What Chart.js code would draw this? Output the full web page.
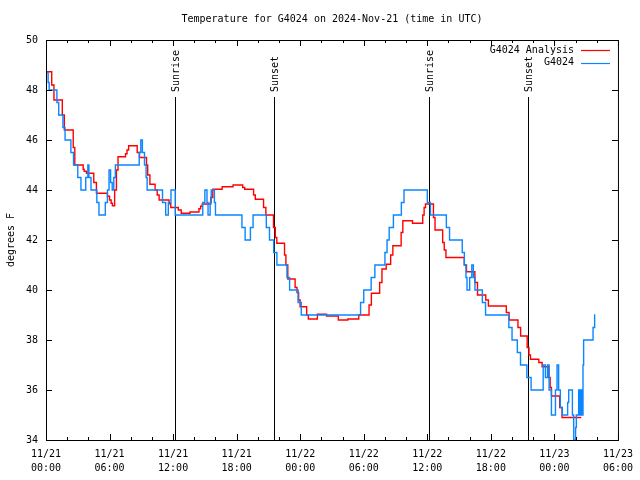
<!doctype html>
<html lang="en">
<head>
<meta charset="utf-8">
<title>Temperature for G4024</title>
<style>
  * { margin: 0; padding: 0; }
  body { background: white; }
  .chartBox { width: 640px; height: 480px; }
</style>
</head>
<body>
<div class="chartBox"><canvas id="myChart"></canvas></div>
<script src="https://cdn.jsdelivr.net/npm/chart.js"></script>
<script>
// hours since 11/21 00:00 UTC; each value holds from its hour on (step line)
const analysisHours = [0.07, 0.54, 0.75, 1.54, 1.73, 2.57, 2.72, 3.51, 3.6, 3.82, 4.51, 4.76,
  5.61, 5.8, 6.0, 6.15, 6.27, 6.48, 6.65, 6.8, 7.51, 7.65, 7.8, 8.61, 8.83, 9.49, 9.6, 9.81,
  10.3, 10.5, 10.68, 11.62, 11.78, 12.49, 12.77, 13.59, 14.44, 14.6, 14.75, 15.56, 15.75,
  16.63, 17.66, 18.57, 18.76, 19.6, 19.76, 20.54, 20.76, 21.48, 21.65, 21.79, 22.52, 22.65,
  22.83, 23.52, 23.7, 23.85, 23.99, 24.61, 24.77, 25.62, 26.49, 27.6, 28.5, 29.53, 30.5,
  30.72, 31.5, 31.72, 32.12, 32.54, 32.75, 33.53, 33.69, 34.6, 35.57, 35.7, 35.83, 36.58,
  36.73, 37.45, 37.6, 37.76, 39.49, 39.7, 40.49, 40.74, 41.52, 41.77, 43.46, 43.72, 44.56,
  44.81, 45.43, 45.6, 45.74, 46.53, 46.84, 47.47, 47.6, 47.72, 48.5, 48.72, 50.53];
const analysisTemps = [48.73, 48.2, 47.6, 47.0, 46.4, 45.7, 45.0, 44.83, 44.75, 44.67, 44.3, 43.87,
  43.87, 43.75, 43.6, 43.47, 43.37, 44.0, 44.8, 45.33, 45.45, 45.6, 45.77, 45.5, 45.3, 45.0, 44.6, 44.23,
  44.0, 43.8, 43.6, 43.45, 43.3, 43.2, 43.07, 43.12, 43.25, 43.35, 43.44, 43.7, 44.03,
  44.13, 44.2, 44.1, 44.03, 43.8, 43.63, 43.3, 43.0, 42.5, 42.1, 41.87, 41.4, 41.0,
  40.44, 40.1, 39.9, 39.6, 39.33, 39.0, 38.84, 39.03, 38.96, 38.8, 38.84, 39.0, 39.4,
  39.87, 40.3, 40.84, 41.03, 41.4, 41.77, 42.3, 42.77, 42.67, 43.0, 43.3, 43.44, 42.9,
  42.4, 41.9, 41.6, 41.3, 41.0, 40.73, 40.3, 39.8, 39.6, 39.36, 39.1, 38.8, 38.5,
  38.16, 37.7, 37.4, 37.23, 37.1, 36.93, 36.5, 36.1, 35.76, 35.3, 34.9, 34.9];

const obsHours = [0.07, 0.2, 0.3, 1.03, 1.2, 1.6, 1.8, 2.35, 2.6, 3.0, 3.3, 3.75, 3.95, 4.05, 4.25,
  4.8, 5.0, 5.6, 5.8, 5.95, 6.1, 6.25, 6.4, 6.55, 8.8, 8.95, 9.1, 9.3, 9.45, 9.55, 11.0, 11.3,
  11.55, 11.8, 12.2, 14.8, 15.0, 15.2, 15.3, 15.5, 15.6, 15.9, 16.0, 18.5, 18.8, 19.3, 19.55,
  20.8, 21.1, 21.5, 21.8, 22.75, 23.0, 23.8, 24.1, 29.7, 30.0, 30.7, 31.05, 32.0, 32.2, 32.4,
  32.8, 33.55, 33.8, 36.0, 36.3, 37.8, 38.1, 39.3, 39.5, 39.65, 39.75, 40.0, 40.2, 40.35,
  40.5, 41.2, 41.5, 43.7, 44.0, 44.5, 44.8, 45.4, 45.8, 46.78, 46.94, 47.15, 47.35, 47.5,
  47.72, 48.1, 48.25, 48.4, 48.56, 48.75, 49.25, 49.35, 49.7, 49.82, 50.0, 50.07, 50.29,
  50.4, 50.5, 50.6, 50.7, 50.76, 51.65, 51.8, 51.85];
const obsTemps = [48.7, 48.3, 48, 47.5, 47, 46.5, 46, 45.5, 45, 44.5, 44, 44.5, 45, 44.5, 44,
  43.5, 43, 43.5, 44, 44.8, 44.3, 44, 44.5, 45, 45.5, 46, 45.5, 45, 44.5, 44, 43.5, 43,
  43.5, 44, 43, 43.5, 44, 43.5, 43, 43.5, 44, 43.5, 43, 42.5, 42, 42.5, 43,
  42.5, 42, 41.5, 41, 40.5, 40, 39.5, 39, 39.5, 40, 40.5, 41, 41.5, 42, 42.5,
  43, 43.5, 44, 43.5, 43, 42.5, 42, 41.5, 41, 40.5, 40, 40.5, 41, 40.5,
  40, 39.5, 39, 38.5, 38, 37.5, 37, 36.5, 36, 36, 37, 36.5, 37, 36,
  35, 36, 37, 36, 35.3, 35, 35.5, 36, 35, 34, 34.5, 35, 36,
  35, 36, 35, 37, 38, 38.5, 39, 39];

const sunLabels = ['Sunrise', 'Sunset', 'Sunrise', 'Sunset'];
const sunHours = [12.14, 21.53, 36.19, 45.49];

const xTickHours = [0, 6, 12, 18, 24, 30, 36, 42, 48, 54];
const xTickLabels = [['11/21', '00:00'], ['11/21', '06:00'], ['11/21', '12:00'], ['11/21', '18:00'],
  ['11/22', '00:00'], ['11/22', '06:00'], ['11/22', '12:00'], ['11/22', '18:00'],
  ['11/23', '00:00'], ['11/23', '06:00']];

const FONT = '10px "DejaVu Sans Mono"';
const RED = '#ff0000';
const BLUE = '#0a86ff';

// frame, inward ticks, sun lines, legend, titles (gnuplot look)
const decor = {
  id: 'decor',
  beforeDatasetsDraw(chart) {
    const {ctx, chartArea: a, scales: {x}} = chart;
    ctx.save();
    ctx.strokeStyle = '#000';
    ctx.lineWidth = 1;
    ctx.fillStyle = '#000';
    ctx.font = FONT;
    sunHours.forEach((h, i) => {
      const px = Math.round(x.getPixelForValue(h)) + 0.5;
      ctx.beginPath();
      ctx.moveTo(px, 97);
      ctx.lineTo(px, a.bottom);
      ctx.stroke();
      ctx.save();
      ctx.translate(px + 1, 92);
      ctx.rotate(-Math.PI / 2);
      ctx.textAlign = 'left';
      ctx.textBaseline = 'middle';
      ctx.fillText(sunLabels[i], 0, 0);
      ctx.restore();
    });
    ctx.restore();
  },
  afterDraw(chart) {
    const {ctx, chartArea: a, scales: {x, y}} = chart;
    ctx.save();
    ctx.strokeStyle = '#000';
    ctx.lineWidth = 1;
    ctx.strokeRect(a.left + 0.5, a.top + 0.5, a.right - a.left, a.bottom - a.top);
    ctx.beginPath();
    for (let h = 0; h <= 54; h += 2) {
      const px = Math.round(x.getPixelForValue(h)) + 0.5;
      const len = h % 6 === 0 ? 6 : 3;
      ctx.moveTo(px, a.bottom); ctx.lineTo(px, a.bottom - len);
      ctx.moveTo(px, a.top); ctx.lineTo(px, a.top + len);
    }
    for (let t = 34; t <= 50; t += 2) {
      const py = Math.round(y.getPixelForValue(t)) + 0.5;
      ctx.moveTo(a.left, py); ctx.lineTo(a.left + 6, py);
      ctx.moveTo(a.right, py); ctx.lineTo(a.right - 6, py);
    }
    ctx.stroke();

    ctx.fillStyle = '#000';
    ctx.font = FONT;
    ctx.textBaseline = 'middle';
    ctx.textAlign = 'center';
    ctx.fillText('Temperature for G4024 on 2024-Nov-21 (time in UTC)', (a.left + a.right) / 2, 19);

    ctx.save();
    ctx.translate(11, (a.top + a.bottom) / 2);
    ctx.rotate(-Math.PI / 2);
    ctx.fillText('degrees F', 0, 0);
    ctx.restore();

    // legend
    const items = [['G4024 Analysis', RED], ['G4024', BLUE]];
    items.forEach(([label, color], i) => {
      const ly = 50 + i * 12.5;
      ctx.textAlign = 'right';
      ctx.fillStyle = '#000';
      ctx.fillText(label, 574, ly);
      ctx.strokeStyle = color;
      ctx.lineWidth = 1.2;
      ctx.beginPath();
      ctx.moveTo(581, Math.round(ly) + 0.5);
      ctx.lineTo(610, Math.round(ly) + 0.5);
      ctx.stroke();
    });
    ctx.restore();
  }
};

const data = {
  datasets: [{
    label: 'G4024 Analysis',
    data: analysisHours.map((h, i) => ({x: h, y: analysisTemps[i]})),
    borderColor: RED,
    borderWidth: 1.4,
    pointRadius: 0,
    stepped: 'before',
    order: 1
  }, {
    label: 'G4024',
    data: obsHours.map((h, i) => ({x: h, y: obsTemps[i]})),
    borderColor: BLUE,
    borderWidth: 1.4,
    pointRadius: 0,
    stepped: 'before',
    order: 0
  }]
};

const config = {
  type: 'line',
  data,
  options: {
    responsive: false,
    animation: false,
    layout: { padding: { top: 40, right: 20, left: 0, bottom: 0 } },
    plugins: { legend: { display: false }, tooltip: { enabled: false } },
    scales: {
      x: {
        type: 'linear',
        min: 0,
        max: 54,
        afterBuildTicks: s => { s.ticks = xTickHours.map(v => ({value: v})); },
        afterFit: s => { s.height = 40; },
        grid: { drawOnChartArea: false, drawTicks: false },
        border: { display: false },
        ticks: {
          autoSkip: false,
          maxRotation: 0,
          padding: 7,
          color: '#000',
          font: { family: 'DejaVu Sans Mono', size: 10, lineHeight: 1.4 },
          callback: v => xTickLabels[xTickHours.indexOf(v)]
        }
      },
      y: {
        min: 34,
        max: 50,
        afterFit: s => { s.width = 46; },
        grid: { drawOnChartArea: false, drawTicks: false },
        border: { display: false },
        ticks: {
          stepSize: 2,
          padding: 8,
          color: '#000',
          font: { family: 'DejaVu Sans Mono', size: 10 }
        }
      }
    }
  },
  plugins: [decor]
};

const canvas = document.getElementById('myChart');
canvas.width = 640;
canvas.height = 480;
const myChart = new Chart(canvas, config);
</script>
</body>
</html>
